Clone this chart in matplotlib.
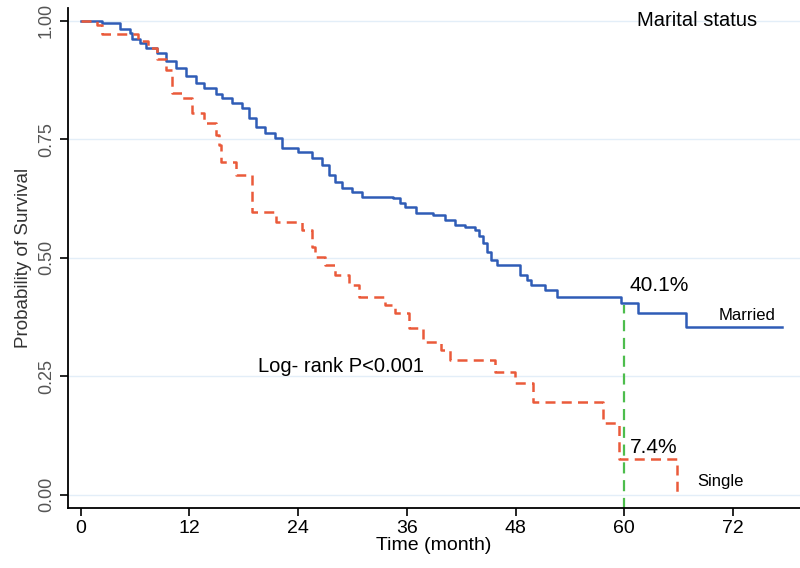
import numpy as np
import matplotlib.pyplot as plt

plt.rcParams['font.family'] = ['Liberation Sans', 'DejaVu Sans']

# Kaplan-Meier step points (time in months, survival)
married_t = [0, 2.4, 4.3, 5.4, 5.7, 6.5, 7.2, 8.4, 9.4, 10.5, 11.6, 12.7, 13.6, 14.9,
             15.6, 16.7, 17.8, 18.6, 19.3, 20.4, 21.5, 22.2, 24.0, 25.5, 26.6, 27.4,
             28.1, 28.9, 30.0, 31.0, 34.5, 35.2, 35.8, 37.0, 38.9, 40.2, 41.3, 42.4,
             43.5, 44.0, 44.4, 44.9, 45.3, 46.0, 48.5, 49.3, 49.7, 51.3, 52.6, 59.6,
             61.5, 66.8, 77.4]
married_s = [1.0, 0.996, 0.983, 0.975, 0.962, 0.952, 0.943, 0.931, 0.916, 0.90, 0.884,
             0.869, 0.859, 0.846, 0.836, 0.827, 0.815, 0.794, 0.775, 0.764, 0.752, 0.731,
             0.722, 0.71, 0.695, 0.674, 0.659, 0.648, 0.638, 0.627, 0.625, 0.615, 0.606,
             0.594, 0.589, 0.579, 0.568, 0.564, 0.558, 0.545, 0.531, 0.512, 0.495, 0.484,
             0.463, 0.452, 0.442, 0.432, 0.417, 0.404, 0.383, 0.354, 0.354]

single_t = [0, 1.8, 2.4, 6.3, 7.4, 8.4, 9.4, 10.1, 11.2, 12.3, 13.6, 14.9, 15.3, 15.5,
            17.1, 18.9, 21.6, 24.4, 25.5, 25.9, 27.0, 28.1, 29.6, 30.7, 33.6, 34.7,
            36.2, 37.8, 39.8, 40.8, 45.7, 47.9, 49.9, 57.6, 59.4, 65.8]
single_s = [1.0, 0.99, 0.973, 0.958, 0.943, 0.92, 0.895, 0.848, 0.836, 0.806, 0.785,
            0.758, 0.737, 0.701, 0.674, 0.596, 0.575, 0.558, 0.522, 0.501, 0.484, 0.463,
            0.442, 0.417, 0.40, 0.383, 0.352, 0.322, 0.305, 0.284, 0.259, 0.236, 0.196,
            0.152, 0.074, 0.0]

married_60 = 0.401
single_60 = 0.074
x_ticks = [0, 12, 24, 36, 48, 60, 72]
y_ticks = [0.0, 0.25, 0.5, 0.75, 1.0]

fig = plt.figure(figsize=(8, 5.68), dpi=100)
ax = fig.add_axes([0.085, 0.106, 0.915, 0.88])

for y in y_ticks:
    ax.axhline(y, color='#e3eef8', lw=1, zorder=0)

ax.step(married_t, married_s, where='post', color='#2f5cb6', lw=1.8)
ax.step(single_t, single_s, where='post', color='#ea5a3a', lw=1.8,
        linestyle=(0, (4, 2.5)))
ax.plot([60, 60], [-0.03, married_60], color='#4dbd4d', lw=1.6, linestyle=(0, (5, 3)))

ax.text(60.6, married_60 + 0.02, '40.1%', fontsize=15, va='bottom')
ax.text(60.6, single_60 + 0.005, '7.4%', fontsize=15, va='bottom')
ax.text(70.4, 0.362, 'Married', fontsize=12, va='bottom')
ax.text(68.1, 0.012, 'Single', fontsize=12, va='bottom')
ax.text(61.4, 1.0, 'Marital status', fontsize=14.5, va='center')
ax.text(19.6, 0.27, 'Log- rank P<0.001', fontsize=14.5, va='center')

ax.set_xlim(-1.4, 79.4)
ax.set_ylim(-0.028, 1.027)
ax.set_xticks(x_ticks)
ax.set_yticks(y_ticks)
ax.set_xticklabels([str(v) for v in x_ticks], fontsize=14)
ax.set_yticklabels(['0.00', '0.25', '0.50', '0.75', '1.00'], rotation=90, va='center',
                   color='#555555', fontsize=13)
ax.tick_params(axis='x', length=6, width=1.2, pad=3)
ax.tick_params(axis='y', length=6, width=1.2)
for s in ['top', 'right']:
    ax.spines[s].set_visible(False)
for s in ['left', 'bottom']:
    ax.spines[s].set_linewidth(1.3)
ax.set_xlabel('Time (month)', fontsize=14, labelpad=0)
ax.set_ylabel('Probability of Survival', fontsize=13.5, labelpad=4, color='#333333')

fig.savefig('out.png', dpi=100)
